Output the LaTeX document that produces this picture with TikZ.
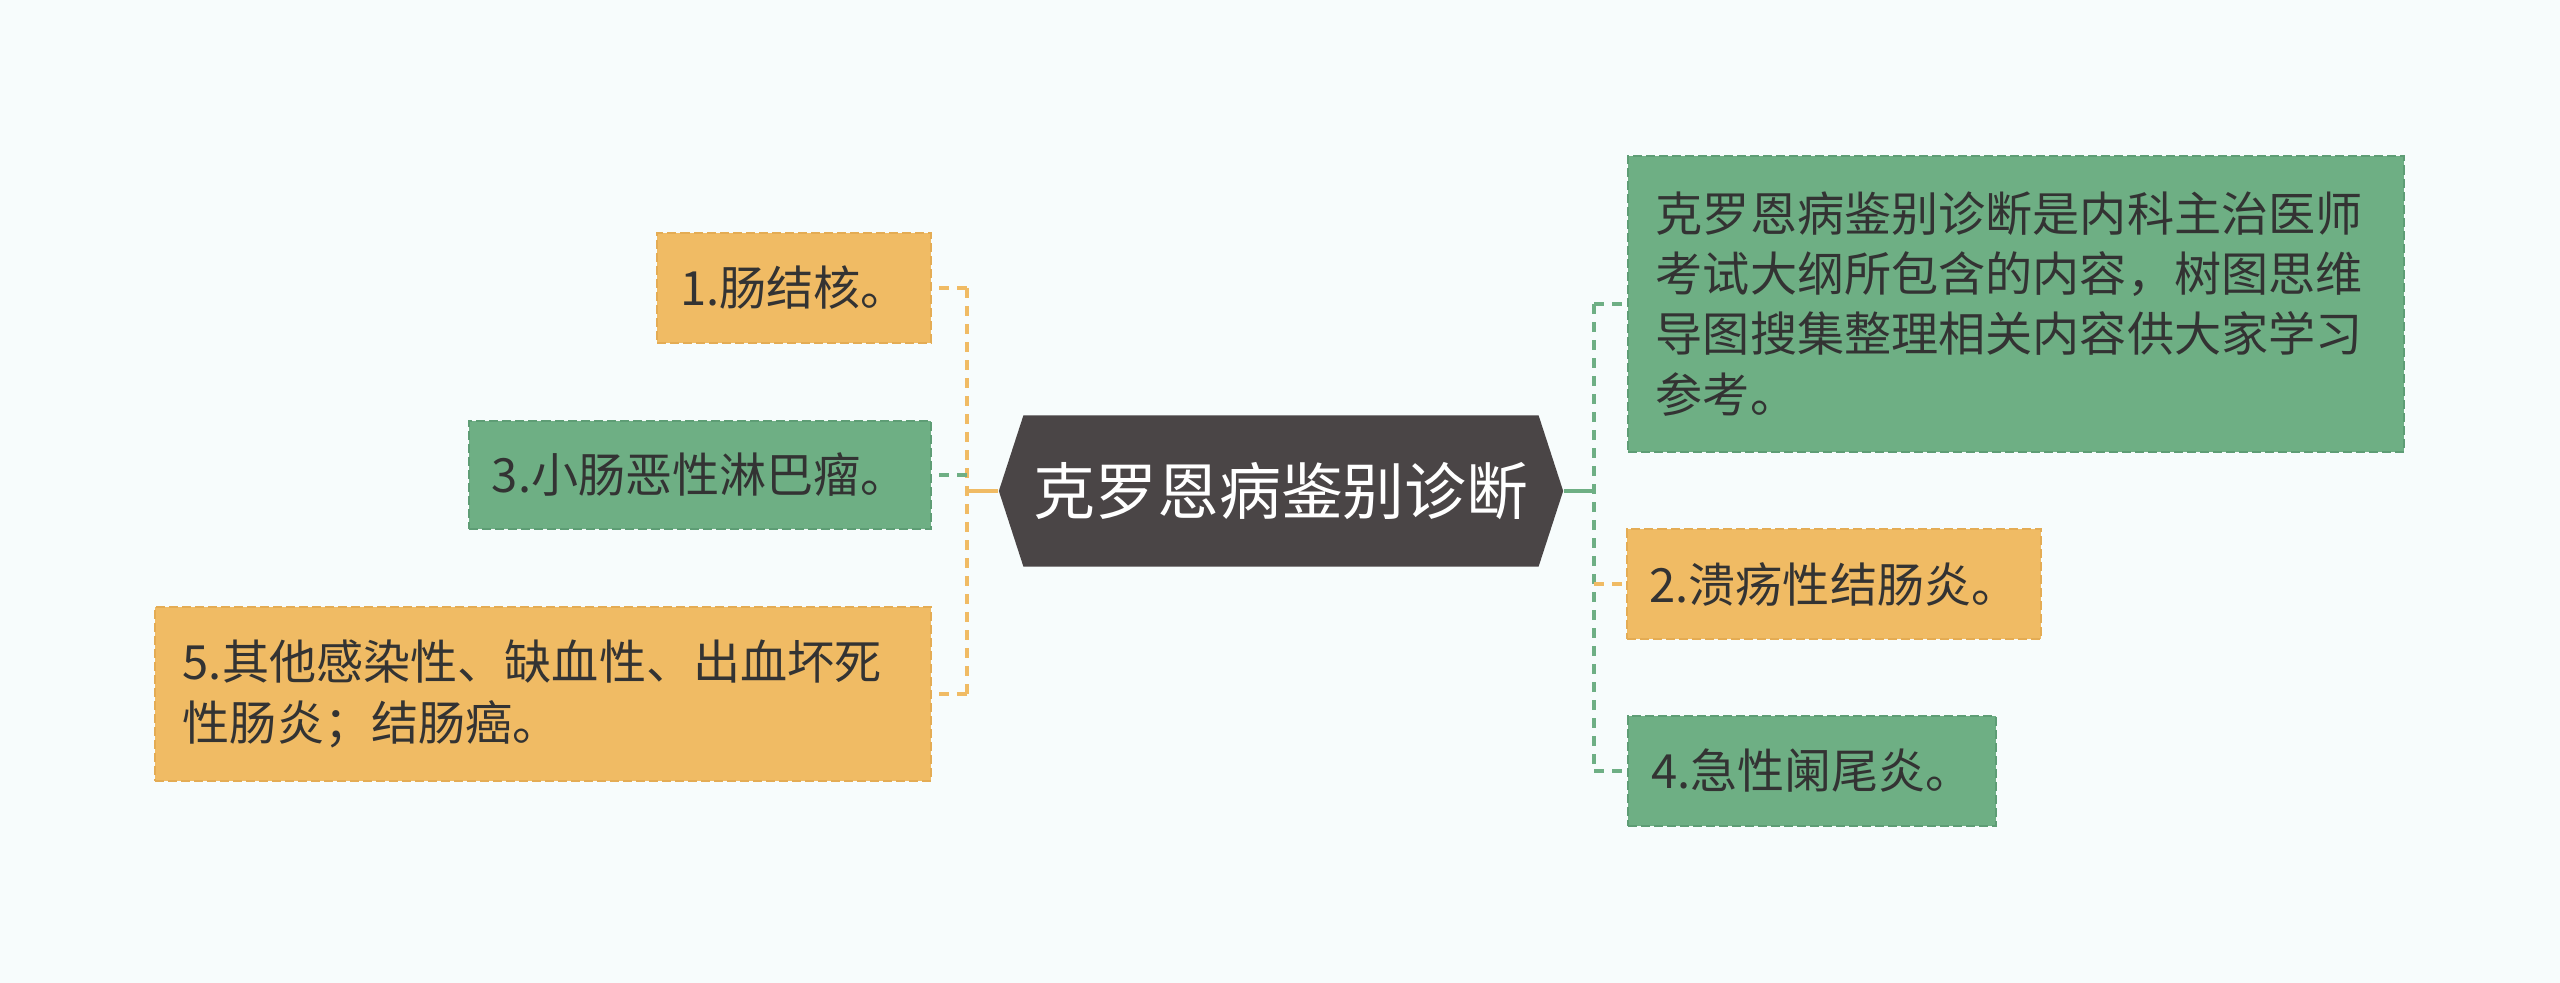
\documentclass[tikz,border=0pt]{standalone}
\usepackage{fontspec}
\usepackage{xcolor}
\usepackage{tikz}
\usetikzlibrary{shapes.symbols}
\setmainfont{Noto Sans CJK SC}
\definecolor{bgpaper}{RGB}{247,252,252}
\definecolor{rootfill}{RGB}{74,69,70}
\definecolor{orangebox}{RGB}{240,187,100}
\definecolor{orangeedge}{RGB}{228,172,84}
\definecolor{greenbox}{RGB}{110,175,132}
\definecolor{greenedge}{RGB}{94,157,117}
\definecolor{leaftext}{RGB}{51,51,51}
\newcommand{\crohnleaf}[6]{%
  \node[draw=#5edge,fill=#5box,line width=0.02cm,dash pattern=on 0.09cm off 0.04cm,
    text=leaftext,font=\fontsize{13.4pt}{17.1pt}\selectfont,inner xsep=0.2cm,
    minimum width=#3,minimum height=#4,#6] (#1) at (#2)%
}
\newcommand{\crohnstub}[3]{%
  \draw[#3box,line width=0.04cm,dash pattern=on 0.1cm off 0.08cm] (#1 -| #2) -- (#1);%
}

\begin{document}
\begin{tikzpicture}[x=0.01cm,y=-0.01cm]
  \fill[bgpaper] (0,0) rectangle (2560,983);
  \useasboundingbox (0,0) rectangle (2560,983);
  \node[signal,signal to=west and east,signal pointer angle=144,fill=rootfill,text=white,
    font=\fontsize{17.6pt}{20pt}\selectfont,minimum width=5.64cm,minimum height=1.51cm,
    inner sep=0pt] (root) at (1281,491) {克罗恩病鉴别诊断};
  \crohnleaf{n1}{794,288}{2.73cm}{1.10cm}{orange}{} {1.肠结核。};
  \crohnleaf{n3}{700,475}{4.61cm}{1.08cm}{green}{} {3.小肠恶性淋巴瘤。};
  \crohnleaf{n5}{543,694}{7.76cm}{1.74cm}{orange}{text width=7.20cm,align=left}
    {5.其他感染性、缺血性、出血坏死\\性肠炎；结肠癌。};
  \crohnleaf{r1}{2016,304}{7.76cm}{2.95cm}{green}{text width=7.20cm,align=left}
    {克罗恩病鉴别诊断是内科主治医师\\考试大纲所包含的内容，树图思维\\导图搜集整理相关内容供大家学习\\参考。};
  \crohnleaf{n2}{1834,584}{4.13cm}{1.10cm}{orange}{} {2.溃疡性结肠炎。};
  \crohnleaf{n4}{1812,771}{3.68cm}{1.09cm}{green}{} {4.急性阑尾炎。};
  \coordinate (ljoin) at (967,491);
  \coordinate (rjoin) at (1594,491);
  \draw[orangebox,line width=0.04cm] (root.west) -- (ljoin);
  \draw[greenbox,line width=0.04cm] (root.east) -- (rjoin);
  \draw[orangebox,line width=0.04cm,dash pattern=on 0.1cm off 0.08cm] (n1.east -| ljoin) -- (n5.east -| ljoin);
  \draw[greenbox,line width=0.04cm,dash pattern=on 0.1cm off 0.08cm] (r1.west -| rjoin) -- (n4.west -| rjoin);
  \crohnstub{n1.east}{ljoin}{orange}
  \crohnstub{n3.east}{ljoin}{green}
  \crohnstub{n5.east}{ljoin}{orange}
  \crohnstub{r1.west}{rjoin}{green}
  \crohnstub{n2.west}{rjoin}{orange}
  \crohnstub{n4.west}{rjoin}{green}
\end{tikzpicture}
\end{document}
